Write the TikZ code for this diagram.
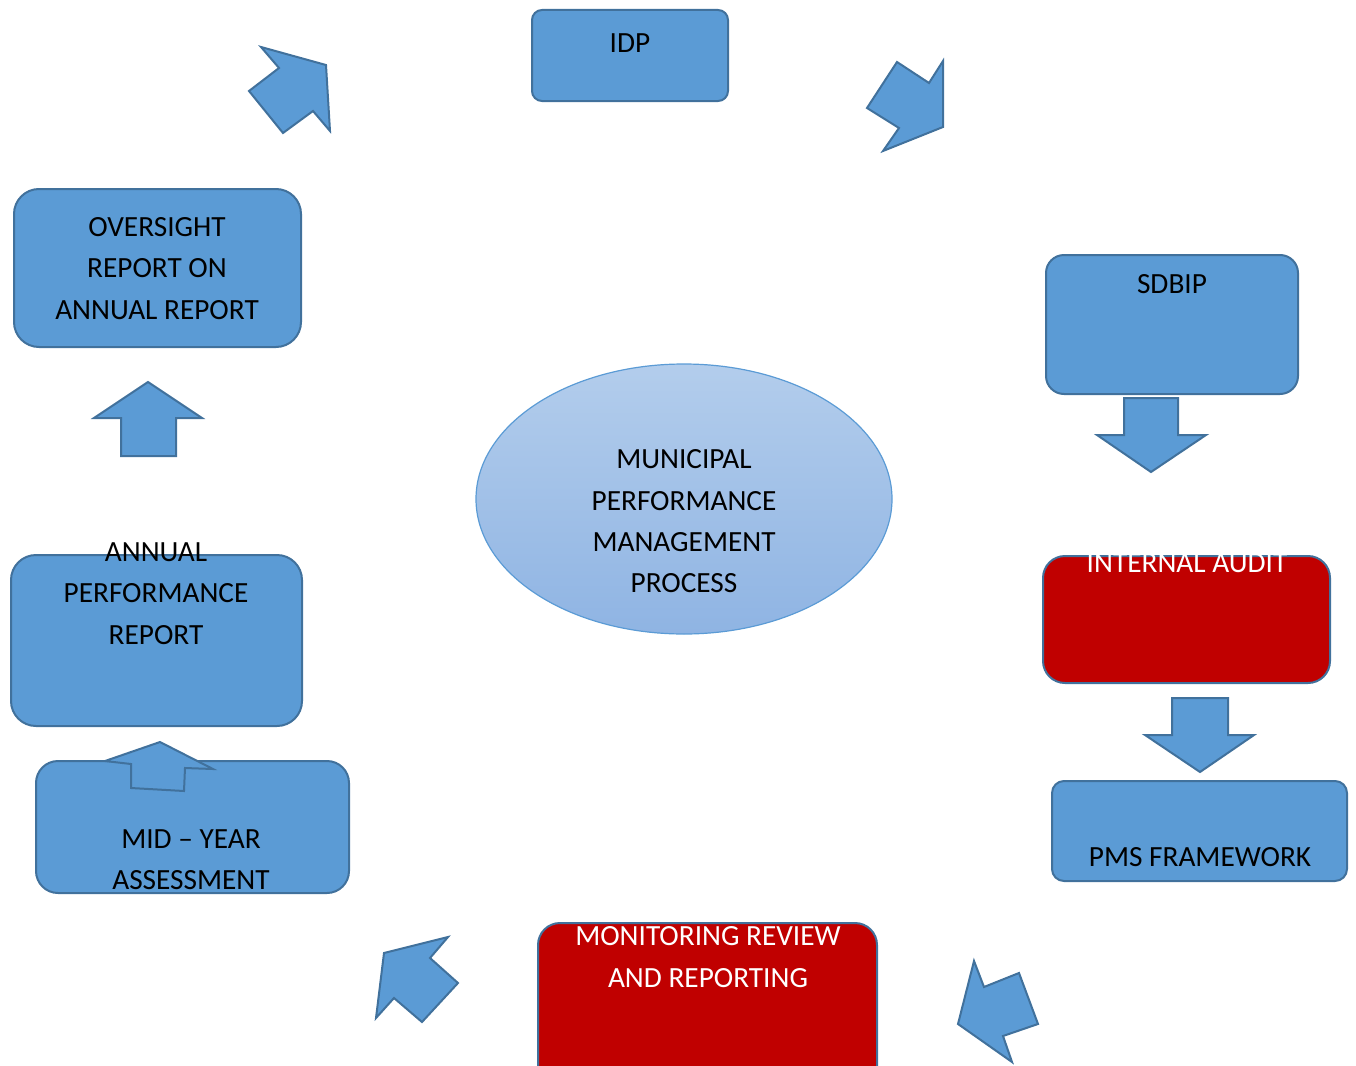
\documentclass[tikz,border=0pt]{standalone}
\usepackage{fontspec}
\setmainfont{Carlito}
\usepackage{tikz}
\usetikzlibrary{shapes.geometric}
\definecolor{box}{HTML}{5B9BD5}
\definecolor{edg}{HTML}{41719C}
\definecolor{aud}{HTML}{C00000}
\definecolor{elt}{HTML}{B3CDEC}
\definecolor{elb}{HTML}{8FB4E3}
\tikzset{
  blk/.style={rectangle,rounded corners=#1,draw=edg,fill=box,line width=2pt,inner sep=0pt},
  blk/.default=20pt,
  blkr/.style={blk=#1,fill=aud},
  blkr/.default=22pt,
  ell/.style={ellipse,draw=box,line width=1.2pt,top color=elt,bottom color=elb,
    minimum width=416pt,minimum height=270pt,inner sep=0pt},
  txt/.style={font=\fontsize{29.3}{41.3}\selectfont,align=center,inner sep=0pt,text=black},
  txw/.style={txt,text=white},
  % a block arrow is a plain outline, drawn after the box that it overlaps
  bar/.style={draw=edg,fill=box,line width=2pt,line join=miter},
}

\begin{document}
\begin{tikzpicture}[x=1pt,y=-1pt]
\useasboundingbox (0,0) rectangle (1356,1065);
% ---------- boxes ----------
\node[blk=10pt,minimum width=196pt,minimum height=91pt] (idp) at (630,55.5) {};
\node[blk=25pt,minimum width=287pt,minimum height=158pt] (ovs) at (157.5,268) {};
\node[blk=18pt,minimum width=252pt,minimum height=139pt] (sdb) at (1172,324.5) {};
\node[blkr,minimum width=287pt,minimum height=127pt] (aud) at (1186.5,619.5) {};
\node[blk=12pt,minimum width=295pt,minimum height=100pt] (pms) at (1199.5,831) {};
\node[blkr,minimum width=339pt,minimum height=170pt] (mon) at (707.5,1008) {};
\node[blk=25pt,minimum width=291pt,minimum height=171pt] (apr) at (156.5,640.5) {};
\node[blk=22pt,minimum width=313pt,minimum height=132pt] (mid) at (192.5,827) {};
\node[ell] (mpm) at (684,499) {};
% ---------- block arrows ----------
\draw[bar] (261,47) -- (326,65) -- (330,131) -- (313,111) -- (283,133) -- (249,91) -- (279,68) -- cycle;
\draw[bar] (897,62) -- (929,83) -- (943,61) -- (943,127) -- (883,151) -- (899,128) -- (867,108) -- cycle;
\draw[bar] (1124,398) -- (1178,398) -- (1178,435) -- (1206,435) -- (1151,472) -- (1097,435) -- (1124,435) -- cycle;
\draw[bar] (1172,698) -- (1228,698) -- (1228,735) -- (1254,735) -- (1200,772) -- (1145,735) -- (1172,735) -- cycle;
\draw[bar] (974,961) -- (984,987) -- (1019,973) -- (1038,1024) -- (1003,1036) -- (1012,1062) -- (958,1024) -- cycle;
\draw[bar] (448,937) -- (430,958) -- (458,983) -- (422,1022) -- (394,998) -- (376,1018) -- (384,953) -- cycle;
\draw[bar] (148,382) -- (202,418) -- (176,418) -- (176,456) -- (121,456) -- (121,418) -- (94,418) -- cycle;
\draw[bar] (160,742) -- (213,769) -- (185,768) -- (184,791) -- (131,788) -- (131,764) -- (105,761) -- cycle;
% ---------- texts ----------
\node[txt] (idpt) at (630,43.5) {IDP};
\node[txt] (ovst) at (157,268.5) {OVERSIGHT\\REPORT ON\\ANNUAL REPORT};
\node[txt] (sdbt) at (1172,284) {SDBIP};
\node[txw] (audt) at (1187,563) {INTERNAL AUDIT};
\node[txt] (pmst) at (1200,857) {PMS FRAMEWORK};
\node[txw] (mont) at (708,957) {MONITORING REVIEW\\AND REPORTING};
\node[txt] (aprt) at (156,593.5) {ANNUAL\\PERFORMANCE\\REPORT};
\node[txt] (midt) at (191,859.5) {MID -- YEAR\\ASSESSMENT};
\node[txt] (mpmt) at (684,521.5) {MUNICIPAL\\PERFORMANCE\\MANAGEMENT\\PROCESS};
\end{tikzpicture}
\end{document}
